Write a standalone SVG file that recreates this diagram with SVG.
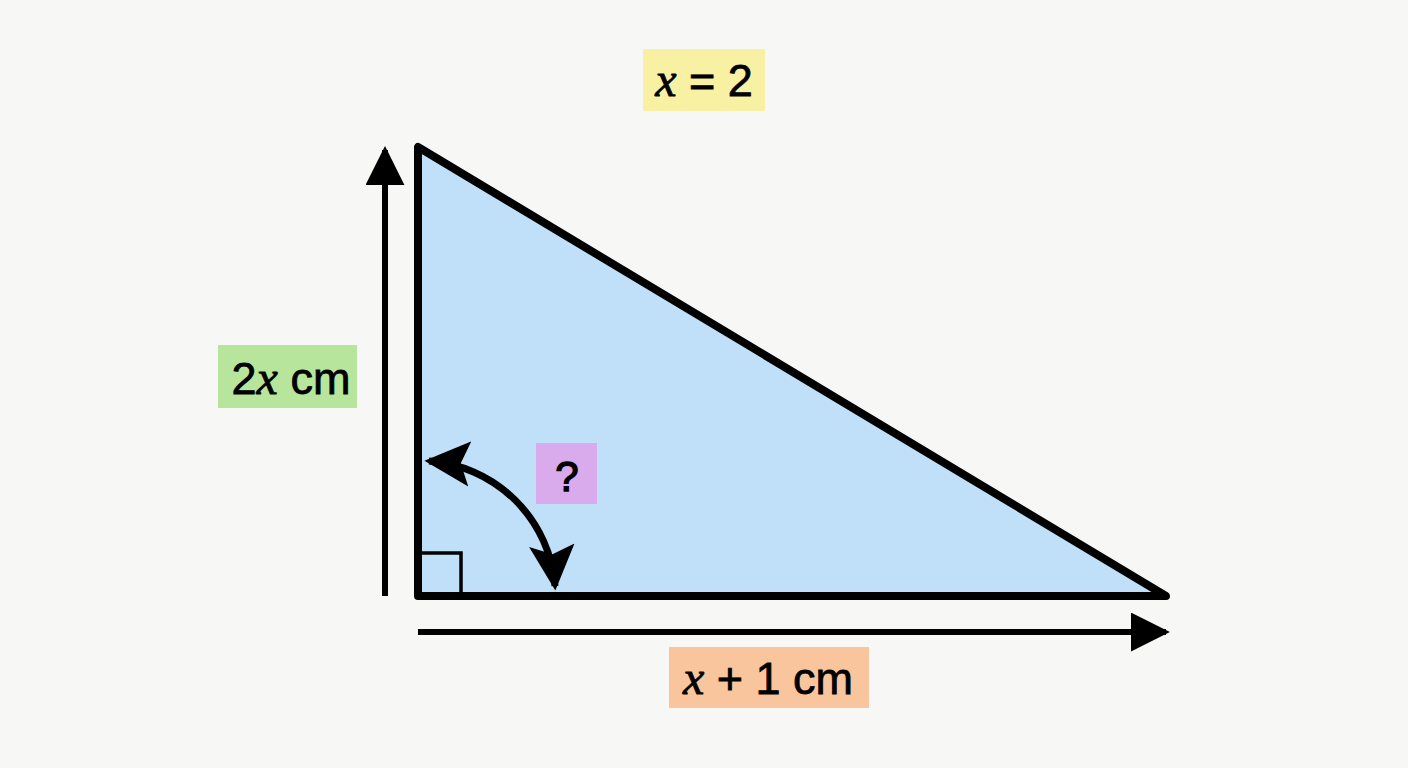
<svg xmlns="http://www.w3.org/2000/svg" width="1408" height="768" viewBox="0 0 1408 768">
<defs>
<style>
.lbl{font-family:"Liberation Sans",Arial,sans-serif;font-size:45px;fill:#000;stroke:#000;stroke-width:0.8;text-anchor:middle}
.var{font-family:"Liberation Serif","Times New Roman",serif;font-style:italic;font-size:48px}
.ln{stroke:#000;fill:none;stroke-linecap:butt}
</style>
<marker id="ah" viewBox="0 0 10 10" refX="9" refY="5" markerWidth="6.5" markerHeight="6.5" orient="auto-start-reverse" markerUnits="strokeWidth">
<path d="M0,0 L10,5 L0,10 Z" fill="#000"/>
</marker>
<marker id="ahc" viewBox="0 0 10 10" refX="9" refY="5" markerWidth="6.5" markerHeight="6.5" orient="auto-start-reverse" markerUnits="strokeWidth">
<path d="M0,0 L10,5 L0,10 L2,5 Z" fill="#000"/>
</marker>
</defs>
<rect width="1408" height="768" fill="#f7f7f6"/>
<g id="triangle">
<polygon points="418,147 418,596 1166,596" fill="#bfe0f8" stroke="#000" stroke-width="8" stroke-linejoin="round"/>
<path d="M418,553 H461 V596" class="ln" stroke-width="3.5"/>
</g>
<g id="connectors">
<line x1="385" y1="596" x2="385" y2="150" class="ln" stroke-width="6" marker-end="url(#ah)"/>
<line x1="418" y1="632" x2="1166" y2="632" class="ln" stroke-width="6" marker-end="url(#ah)"/>
<path d="M429,461 A136,136 0 0 1 555,586" class="ln" stroke-width="7" marker-start="url(#ahc)" marker-end="url(#ahc)"/>
</g>
<g id="label-x2">
<rect x="643" y="49" width="122" height="62" fill="#f8f1a3"/>
<text x="704" y="96" class="lbl"><tspan class="var">x</tspan> = 2</text>
</g>
<g id="label-2x">
<rect x="218" y="345" width="139" height="63" fill="#b7e59c"/>
<text x="291" y="394" class="lbl">2<tspan class="var">x</tspan> cm</text>
</g>
<g id="label-q">
<rect x="536" y="443" width="61" height="61" fill="#d9aaec"/>
<text x="567" y="491" class="lbl" style="font-size:42px;stroke-width:1.4">?</text>
</g>
<g id="label-x1">
<rect x="669" y="647" width="200" height="61" fill="#f9c59c"/>
<text x="768" y="694" class="lbl"><tspan class="var">x</tspan> + 1 cm</text>
</g>
</svg>
